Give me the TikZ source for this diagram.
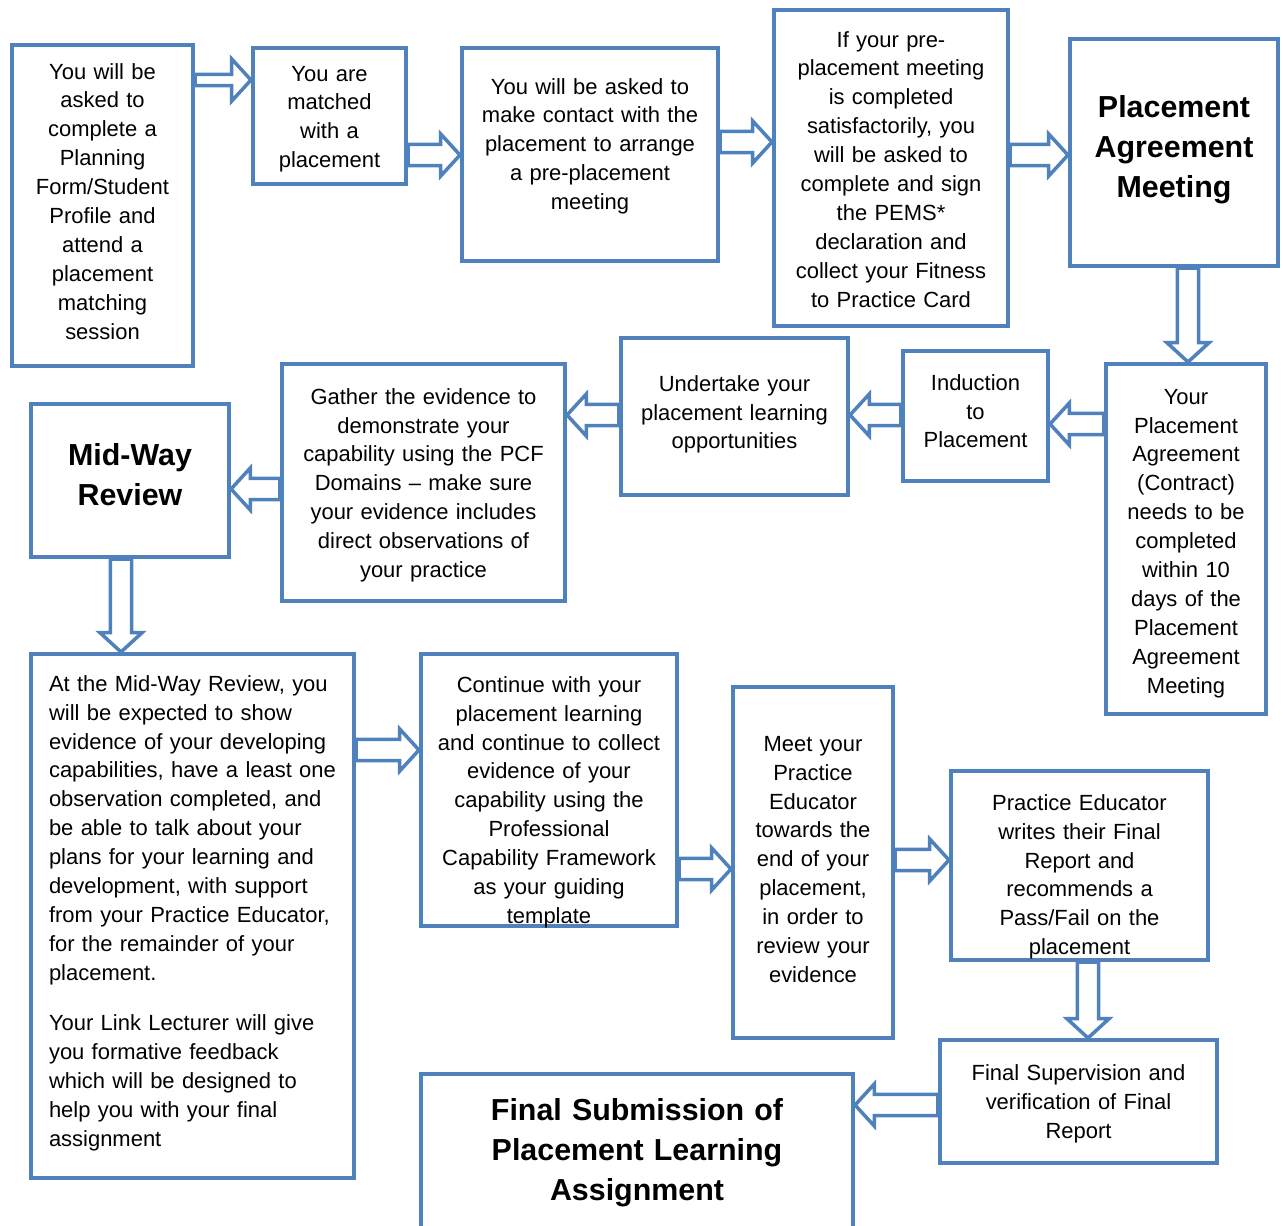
\documentclass[tikz,border=0pt]{standalone}
\usepackage{fontspec}
\setmainfont{Liberation Sans}
\usetikzlibrary{calc}
\definecolor{boxblue}{HTML}{4F81BD}
\tikzstyle{flowbox} = [draw=boxblue, line width=2.3pt, inner xsep=2pt, inner ysep=0pt, align=center, font=\fontsize{12.5}{16.5}\selectfont]
\tikzstyle{titlebox} = [flowbox, font=\fontsize{17.3}{23}\selectfont\bfseries]
\tikzset{
  boxsize/.style n args={3}{text width=#1*0.02cm-4pt, text height=#2*0.02cm, text depth=#3*0.02cm},
  arrshaft/.store in=\arrshaft, arrwing/.store in=\arrwing, arrhead/.store in=\arrhead,
  arrshaft=6pt, arrwing=12pt, arrhead=11pt,
  blockarrow/.style={draw=boxblue, line width=2pt, fill=white, line join=miter,
    to path={let \p1=($(\tikztotarget)!\arrhead!(\tikztostart)$) in
      ($(\tikztostart)!\arrshaft!90:(\tikztotarget)$) -- ($(\p1)!\arrshaft!-90:(\tikztostart)$)
      -- ($(\p1)!\arrwing!-90:(\tikztostart)$) -- (\tikztotarget)
      -- ($(\p1)!\arrwing!90:(\tikztostart)$) -- ($(\p1)!\arrshaft!90:(\tikztostart)$)
      -- ($(\tikztostart)!\arrshaft!-90:(\tikztotarget)$) -- cycle}}
}

\begin{document}
\begin{tikzpicture}[x=0.02cm, y=-0.02cm]
    \useasboundingbox (0,0) rectangle (1283,1225);
    % top row
    \draw (102.5,205.5) node[flowbox, boxsize={181}{34}{287}] (b1) {You will be\\asked to\\complete a\\Planning\\Form/Student\\Profile and\\attend a\\placement\\matching\\session};
    \draw (329.5,116) node[flowbox, boxsize={153}{33}{103}] (b2) {You are\\matched\\with a\\placement};
    \draw (590,154.5) node[flowbox, boxsize={256}{46}{167}] (b3) {You will be asked to\\make contact with the\\placement to arrange\\a pre-placement\\meeting};
    \draw (891,168) node[flowbox, boxsize={234}{37}{279}] (b4) {If your pre-\\placement meeting\\is completed\\satisfactorily, you\\will be asked to\\complete and sign\\the PEMS*\\declaration and\\collect your Fitness\\to Practice Card};
    \draw (1174,152.5) node[titlebox, boxsize={208}{78}{149}] (b5) {Placement\\Agreement\\Meeting};
    % middle row
    \draw (1186,539) node[flowbox, boxsize={160}{40}{310}] (b6) {Your\\Placement\\Agreement\\(Contract)\\needs to be\\completed\\within 10\\days of the\\Placement\\Agreement\\Meeting};
    \draw (975.5,416) node[flowbox, boxsize={145}{39}{91}] (b7) {Induction\\to\\Placement};
    \draw (734.5,416.5) node[flowbox, boxsize={227}{53}{104}] (b8) {Undertake your\\placement learning\\opportunities};
    \draw (423.5,482.5) node[flowbox, boxsize={283}{40}{197}] (b9) {Gather the evidence to\\demonstrate your\\capability using the PCF\\Domains -- make sure\\your evidence includes\\direct observations of\\your practice};
    \draw (130,480.5) node[titlebox, boxsize={198}{61}{92}] (b10) {Mid-Way\\Review};
    % bottom rows
    \draw (192.5,916) node[flowbox, align=left, boxsize={323}{37}{487}, inner xsep=0.36cm, text width=5.74cm] (b11) {At the Mid-Way Review, you\\will be expected to show\\evidence of your developing\\capabilities, have a least one\\observation completed, and\\be able to talk about your\\plans for your learning and\\development, with support\\from your Practice Educator,\\for the remainder of your\\placement.\\[12pt]Your Link Lecturer will give\\you formative feedback\\which will be designed to\\help you with your final\\assignment};
    \draw (549,790) node[flowbox, boxsize={256}{38}{234}] (b12) {Continue with your\\placement learning\\and continue to collect\\evidence of your\\capability using the\\Professional\\Capability Framework\\as your guiding\\template};
    \draw (813,862.5) node[flowbox, boxsize={160}{64}{287}] (b13) {Meet your\\Practice\\Educator\\towards the\\end of your\\placement,\\in order to\\review your\\evidence};
    \draw (1079.5,865.5) node[flowbox, boxsize={257}{39}{150}] (b14) {Practice Educator\\writes their Final\\Report and\\recommends a\\Pass/Fail on the\\placement};
    \draw (1078.5,1101.5) node[flowbox, boxsize={277}{40}{83}] (b15) {Final Supervision and\\verification of Final\\Report};
    \draw (637,1153.5) node[titlebox, boxsize={432}{46}{113}] (b16) {Final Submission of\\Placement Learning\\Assignment};
    % block arrows
    \draw [blockarrow, arrshaft=3.2pt] (b1.east |- 0,80) to (b2.west |- 0,80);
    \draw [blockarrow] (b2.east |- 0,155) to (b3.west |- 0,155);
    \draw [blockarrow] (b3.east |- 0,142) to (b4.west |- 0,142);
    \draw [blockarrow] (b4.east |- 0,155) to (b5.west |- 0,155);
    \draw [blockarrow] (b5.south -| 1188,0) to (b6.north -| 1188,0);
    \draw [blockarrow] (b6.west |- 0,424) to (b7.east |- 0,424);
    \draw [blockarrow] (b7.west |- 0,415) to (b8.east |- 0,415);
    \draw [blockarrow] (b8.west |- 0,415) to (b9.east |- 0,415);
    \draw [blockarrow] (b9.west |- 0,489) to (b10.east |- 0,489);
    \draw [blockarrow] (b10.south -| 121,0) to (b11.north -| 121,0);
    \draw [blockarrow] (b11.east |- 0,750) to (b12.west |- 0,750);
    \draw [blockarrow] (b12.east |- 0,869) to (b13.west |- 0,869);
    \draw [blockarrow] (b13.east |- 0,860) to (b14.west |- 0,860);
    \draw [blockarrow] (b14.south -| 1088,0) to (b15.north -| 1088,0);
    \draw [blockarrow] (b15.west |- 0,1105) to (b16.east |- 0,1105);
\end{tikzpicture}
\end{document}
